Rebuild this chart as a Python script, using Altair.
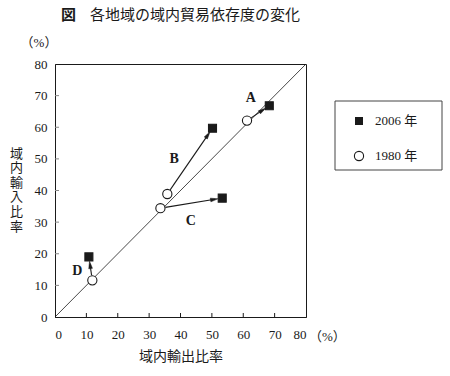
import altair as alt
import pandas as pd
import numpy as np

# ---- data ----
regions = ["A", "B", "C", "D"]
exp_1980 = [61.2, 35.8, 33.6, 11.9]
imp_1980 = [62.1, 38.9, 34.4, 11.6]
exp_2006 = [68.3, 50.2, 53.3, 10.8]
imp_2006 = [66.8, 59.7, 37.6, 19.0]
label_x = [62.4, 38.0, 43.3, 7.1]
label_y = [69.2, 49.9, 30.5, 14.6]
tick_values = [0, 10, 20, 30, 40, 50, 60, 70, 80]
inner_ticks = [10, 20, 30, 40, 50, 60, 70]
years = ["2006 年", "1980 年"]

W, H = 251, 253
sx, sy = W / 80.0, H / 80.0
SER = "Liberation Serif, Noto Sans CJK JP"
INK = "#1a1a1a"

# points
pts = pd.DataFrame({
    "region": regions * 2,
    "x": exp_2006 + exp_1980,
    "y": imp_2006 + imp_1980,
    "year": [years[0]] * 4 + [years[1]] * 4,
})

# arrows (trimmed to symbol edges)
rows = []
for r, x1, y1, x2, y2 in zip(regions, exp_1980, imp_1980, exp_2006, imp_2006):
    dxp, dyp = (x2 - x1) * sx, (y2 - y1) * sy
    L = np.hypot(dxp, dyp)
    ux, uy = dxp / L, dyp / L
    sxd, syd = x1 + ux * 5 / sx, y1 + uy * 5 / sy
    tx, ty = x2 - ux * 4.5 / sx, y2 - uy * 4.5 / sy
    hr = 3.6
    hx, hy = tx - ux * hr / sx, ty - uy * hr / sy
    ang = float(np.degrees(np.arctan2(dxp, dyp)) % 360)
    rows.append({"region": r, "x1": sxd, "y1": syd, "x2": tx - ux * 3 / sx, "y2": ty - uy * 3 / sy,
                 "hx": hx, "hy": hy, "ang": ang})
arr = pd.DataFrame(rows)

labels = pd.DataFrame({"region": regions, "x": label_x, "y": label_y})
diag = pd.DataFrame({"v": [0, 80]})
ticks_df = pd.DataFrame({"t": inner_ticks})

xs = alt.Scale(domain=[0, 80], nice=False)
ys = alt.Scale(domain=[0, 80], nice=False)

xaxis = alt.Axis(values=tick_values, ticks=False, grid=False, labelPadding=11,
                 labelOverlap=False, labelFont=SER, labelFontSize=13, labelColor=INK,
                 domainColor=INK, title="域内輸出比率", titleFont=SER,
                 titleFontSize=14, titleFontWeight="normal", titleColor=INK,
                 titlePadding=8)
yaxis = alt.Axis(values=tick_values, ticks=False, grid=False, labelPadding=8,
                 labelOverlap=False, labelFont=SER, labelFontSize=13, labelColor=INK,
                 domainColor=INK, title=list("域内輸入比率"), titleFont=SER,
                 titleFontSize=13, titleFontWeight="normal", titleColor=INK,
                 titleAngle=0, titleX=-39, titleY=83, titleAlign="center",
                 titleBaseline="top", titleLineHeight=14.6)


def X(f):
    return alt.X(f, scale=xs, axis=xaxis)


def Y(f):
    return alt.Y(f, scale=ys, axis=yaxis)


line = alt.Chart(diag).mark_line(color=INK, strokeWidth=0.8).encode(
    x=X("v:Q"), y=Y("v:Q"),
)

rules = alt.Chart(arr).mark_rule(color=INK, strokeWidth=1.1).encode(
    x=X("x1:Q"), y=Y("y1:Q"), x2="x2:Q", y2="y2:Q",
)

heads = alt.Chart(arr).mark_point(
    shape="M0,-1L0.5,1L-0.5,1Z", filled=True, fill=INK, stroke=INK, strokeWidth=0.5,
    size=55, opacity=1
).encode(
    x=X("hx:Q"), y=Y("hy:Q"),
    angle=alt.Angle("ang:Q", scale=None),
)

marks = alt.Chart(pts).mark_point(opacity=1, strokeWidth=1.1, stroke=INK).encode(
    x=X("x:Q"), y=Y("y:Q"),
    shape=alt.Shape("year:N", scale=alt.Scale(domain=years, range=["square", "circle"]), legend=None),
    fill=alt.Fill("year:N", scale=alt.Scale(domain=years, range=[INK, "white"]), legend=None),
    size=alt.Size("year:N", scale=alt.Scale(domain=years, range=[64, 85]), legend=None),
)

lab = alt.Chart(labels).mark_text(font=SER, fontSize=14, fontWeight="bold", color=INK).encode(
    x=X("x:Q"), y=Y("y:Q"), text="region:N",
)

bticks = alt.Chart(ticks_df).mark_rule(color=INK, strokeWidth=1).encode(
    x=X("t:Q"), y=alt.value(H), y2=alt.value(H - 4),
)
lticks = alt.Chart(ticks_df).mark_rule(color="#888", strokeWidth=1).encode(
    y=Y("t:Q"), x=alt.value(0), x2=alt.value(4),
)

# legend (drawn by hand)
leg_df = pd.DataFrame({"year": years})
leg_box = alt.Chart(leg_df.head(1)).mark_rect(fill="white", stroke="#444", strokeWidth=1).encode(
    x=alt.value(280), x2=alt.value(387), y=alt.value(37), y2=alt.value(106),
)
leg_sq = alt.Chart(leg_df.head(1)).mark_point(shape="square", filled=True, color=INK, size=64, opacity=1).encode(
    x=alt.value(304), y=alt.value(57))
leg_ci = alt.Chart(leg_df.head(1)).mark_point(shape="circle", fill="white", stroke=INK, strokeWidth=1.1, size=85, opacity=1).encode(
    x=alt.value(304), y=alt.value(92))
leg_t1 = alt.Chart(leg_df.iloc[[0]]).mark_text(font=SER, fontSize=13, align="left", baseline="middle", color=INK).encode(
    x=alt.value(320), y=alt.value(57), text="year:N")
leg_t2 = alt.Chart(leg_df.iloc[[1]]).mark_text(font=SER, fontSize=13, align="left", baseline="middle", color=INK).encode(
    x=alt.value(320), y=alt.value(92), text="year:N")

# titles / units
txt_df = pd.DataFrame({"s": ["図", "各地域の域内貿易依存度の変化", "（%）"]})
t_fig = alt.Chart(txt_df.iloc[[0]]).mark_text(font=SER, fontSize=15, fontWeight="bold", align="left", baseline="middle", color=INK).encode(
    x=alt.value(6), y=alt.value(-49), text="s:N")
t_main = alt.Chart(txt_df.iloc[[1]]).mark_text(font=SER, fontSize=15, align="left", baseline="middle", color=INK).encode(
    x=alt.value(35), y=alt.value(-49), text="s:N")
t_yu = alt.Chart(txt_df.iloc[[2]]).mark_text(font=SER, fontSize=13, align="center", baseline="middle", color=INK).encode(
    x=alt.value(-16), y=alt.value(-21), text="s:N")
t_xu = alt.Chart(txt_df.iloc[[2]]).mark_text(font=SER, fontSize=13, align="left", baseline="middle", color=INK).encode(
    x=alt.value(254), y=alt.value(273), text="s:N")

chart = alt.layer(
    line, bticks, lticks, rules, heads, marks, lab,
    leg_box, leg_sq, leg_ci, leg_t1, leg_t2, t_fig, t_main, t_yu, t_xu,
).properties(
    width=W, height=H,
    autosize=alt.AutoSizeParams(type="none"),
    padding={"left": 55, "top": 64, "right": 144, "bottom": 59},
    background="white",
).configure_view(stroke=INK, strokeWidth=1)

chart.save("out.html", embed_options={"renderer": "svg", "actions": False})
